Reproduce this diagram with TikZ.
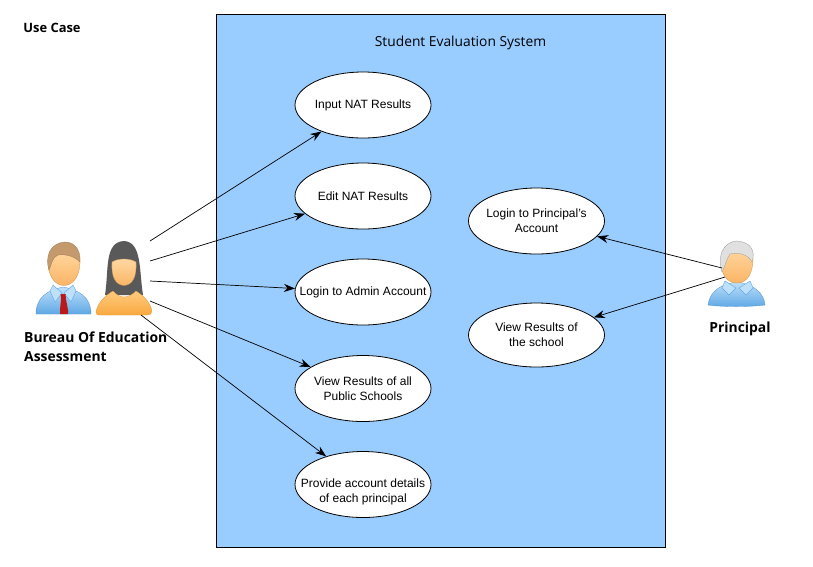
\documentclass[tikz,border=0pt]{standalone}
\usepackage{fontspec}
\setmainfont{Liberation Sans}
\newfontfamily\labelfont{Open Sans}
\usetikzlibrary{arrows.meta,shapes.geometric}
\definecolor{sysblue}{HTML}{99CCFF}
\definecolor{skinA}{HTML}{FFD9A3}
\definecolor{skinB}{HTML}{FBB566}
\definecolor{shirtA}{HTML}{BFE0FA}
\definecolor{shirtB}{HTML}{5FA8E6}
\definecolor{orangeA}{HTML}{FFCB80}
\definecolor{orangeB}{HTML}{F9A93F}
\definecolor{hairman}{HTML}{C49A6C}
\tikzset{
  usecase/.style={draw=black,fill=white,ellipse,line width=0.8pt,minimum width=136pt,minimum height=66pt,inner xsep=-30pt,inner ysep=-12pt,align=center,font=\fontsize{12}{15}\selectfont},
  conn/.style={draw=black,line width=0.7pt,-{Stealth[length=11pt,width=8pt]},shorten >=0pt},
  actorlabel/.style={inner sep=0pt,align=left,font=\labelfont\bfseries\fontsize{13.9}{19}\selectfont},
  skin/.style={top color=skinA,bottom color=skinB,draw=skinB!80!black,line width=0.3pt},
  shirt/.style={top color=shirtA,bottom color=shirtB,draw=shirtB!85!black,line width=0.3pt},
  blouse/.style={top color=orangeA,bottom color=orangeB,draw=orangeB!90!black,line width=0.3pt},
}
\begin{document}
\begin{tikzpicture}[x=1pt,y=-1pt]
\useasboundingbox (0,0) rectangle (813,566);
\fill[white] (0,0) rectangle (813,566);
\draw[fill=sysblue,draw=black,line width=0.8pt] (216.5,14.5) rectangle (665.5,547.5);
\node[inner sep=0pt,font=\labelfont\fontsize{13.8}{16}\selectfont] (title) at (460.5,42.5) {Student Evaluation System};
\node[inner sep=0pt,font=\labelfont\bfseries\fontsize{12.9}{16}\selectfont] (usecase) at (52,28) {Use Case};

\node[usecase] (input) at (363,105) {Input NAT Results};
\node[usecase] (edit) at (363,196) {Edit NAT Results};
\node[usecase] (admin) at (363,292) {Login to Admin Account};
\node[usecase] (view) at (363,388.5) {View Results of all\\Public Schools};
\node[usecase] (provide) at (363,484.5) {\rule{0pt}{23pt}Provide account details\\of each principal};
\node[usecase] (plogin) at (536.5,221) {Login to Principal's\\Account};
\node[usecase,minimum height=64pt] (pview) at (536.5,335) {View Results of\\the school};

% man
\draw[shirt] (36,314) .. controls (36,297) and (48,290) .. (63,287) .. controls (79,290) and (91,297) .. (91,314) -- cycle;
\draw[fill=shirtA,draw=shirtB] (53,285) -- (62,293) -- (55,302) -- (50,291) -- cycle;
\draw[fill=shirtA,draw=shirtB] (73,285) -- (64,293) -- (71,302) -- (76,291) -- cycle;
\fill[red!70!black!90!white] (60.5,294) -- (65.5,294) -- (66,299) -- (68,310) -- (68,314) -- (60,314) -- (60,310) -- (61,299) -- cycle;
\draw[skin] (48,262) .. controls (48,276) and (55,285.5) .. (64,285.5) .. controls (73,285.5) and (80,276) .. (80,262) .. controls (80,248) and (48,248) .. (48,262) -- cycle;
\path[fill=hairman,draw=hairman!80!black,line width=0.3pt] (49,270) .. controls (45,258) and (49,243) .. (65,242) .. controls (76,242) and (81,252) .. (80,262) .. controls (74,256) and (66,254) .. (58,255) .. controls (52,257) and (52,264) .. (49,270) -- cycle;

% woman
\fill[black!65] (105,295) .. controls (109,270) and (104,242) .. (124,241) .. controls (142,242) and (139,270) .. (143,295) -- cycle;
\draw[blouse] (96,312) .. controls (98,302) and (105,296) .. (113,291) .. controls (120,299) and (128,299) .. (136,291) .. controls (144,296) and (150,302) .. (152,311) .. controls (152,314) and (150,315) .. (147,315) -- (99,315) .. controls (97,315) and (96,314) .. (96,312) -- cycle;
\draw[skin] (112,262) .. controls (111,278) and (116,285) .. (124,285.5) .. controls (132,285) and (137,278) .. (136,262) .. controls (130,258) and (118,258) .. (112,262) -- cycle;

% principal
\draw[shirt] (708,305) .. controls (710,290) and (722,284) .. (737,282) .. controls (752,284) and (764,292) .. (765,305) .. controls (750,307) and (722,307) .. (708,305) -- cycle;
\draw[fill=shirtA,draw=shirtB] (725,281) -- (736,288) -- (729,295) -- (722,288) -- cycle;
\draw[fill=shirtA,draw=shirtB] (750,281) -- (739,288) -- (746,295) -- (753,288) -- cycle;
\draw[skin] (721,262) .. controls (721,274) and (727,283) .. (737,283) .. controls (747,283) and (753,274) .. (753,258) .. controls (753,246) and (721,246) .. (721,262) -- cycle;
\path[fill=black!12,draw=black!40,line width=0.3pt] (722,272) .. controls (717,258) and (722,242) .. (737,241) .. controls (750,242) and (756,250) .. (752,262) .. controls (748,254) and (738,252) .. (730,254) .. controls (727,258) and (725,266) .. (722,272) -- cycle;

\node[actorlabel,anchor=north west] (bureau) at (24,332) {Bureau Of Education\\Assessment};
\node[actorlabel] (principal) at (740,329) {Principal};

\coordinate (a1) at (150,241);
\coordinate (a2) at (150,261);
\coordinate (a3) at (150,281);
\coordinate (a4) at (150,301);
\coordinate (a5) at (141,315);
\coordinate (b1) at (722,268);
\coordinate (b2) at (725,277);
\draw[conn] (a1) -- (input);
\draw[conn] (a2) -- (edit);
\draw[conn] (a3) -- (admin);
\draw[conn] (a4) -- (view);
\draw[conn] (a5) -- (provide);
\draw[conn] (b1) -- (plogin);
\draw[conn] (b2) -- (pview);
\end{tikzpicture}
\end{document}
